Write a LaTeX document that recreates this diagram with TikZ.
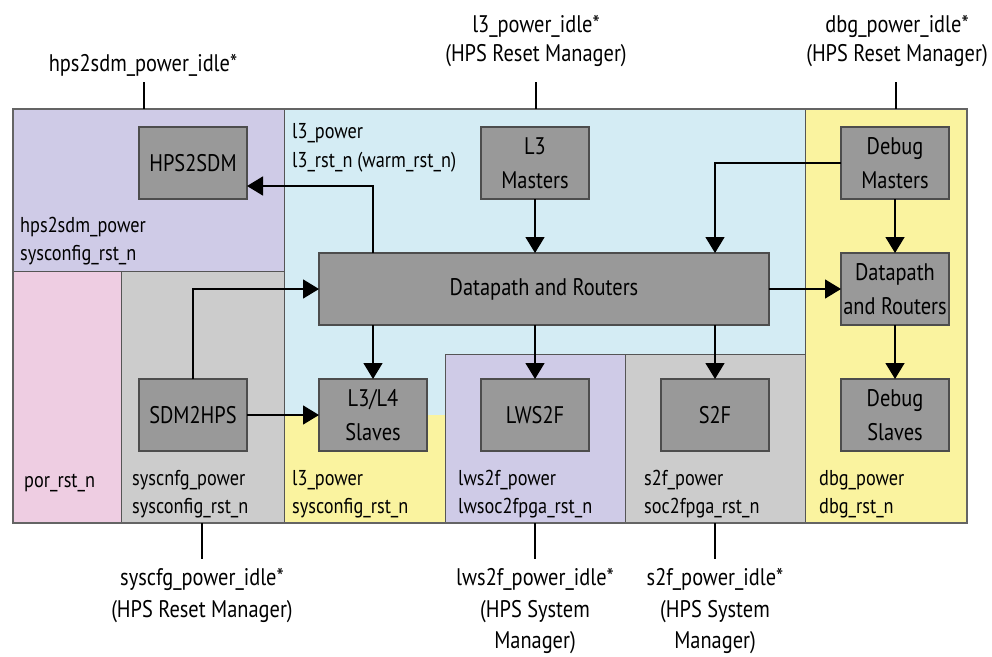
\documentclass[tikz,border=0pt]{standalone}
\usepackage{fontspec}
\setmainfont{PT Sans}[FakeStretch=0.85]
\usetikzlibrary{arrows.meta}
\definecolor{regLav}{RGB}{207,203,231}
\definecolor{regBlue}{RGB}{212,236,244}
\definecolor{regPink}{RGB}{238,205,226}
\definecolor{regGray}{RGB}{204,204,204}
\definecolor{regYel}{RGB}{250,243,159}
\definecolor{boxFill}{RGB}{153,153,153}
\definecolor{boxEdge}{RGB}{77,77,77}
\definecolor{edgeDark}{RGB}{85,85,85}
\definecolor{frameGray}{RGB}{100,100,100}
\begin{document}
\begin{tikzpicture}[x=1pt,y=-1pt,
  blk/.style={draw=boxEdge, line width=1.2pt, fill=boxFill, minimum width=108pt,
    minimum height=72pt, inner sep=0pt, outer sep=0pt, align=center,
    font=\fontsize{24}{34}\selectfont},
  lbl/.style={font=\fontsize{21.5}{26}\selectfont, anchor=base west, inner sep=0pt},
  outer/.style={font=\fontsize{24}{28}\selectfont, anchor=base, inner sep=0pt},
  conn/.style={line width=1.5pt, -{Triangle[length=16pt,width=19pt]}},
  tick/.style={line width=1.5pt},
  region/.style={draw=edgeDark, line width=1pt}
]
\path[use as bounding box] (0,0) rectangle (992,656);

% power domains
\fill[regBlue] (284,109) -- (805,109) -- (805,354) -- (445,354) -- (445,415) -- (284,415) -- cycle;
\fill[regYel] (284,415) rectangle (445,523);
\filldraw[region, fill=regLav] (13,109) rectangle (284,271);
\filldraw[region, fill=regPink] (13,271) rectangle (121,523);
\filldraw[region, fill=regGray] (121,271) rectangle (284,523);
\filldraw[region, fill=regLav] (445,354) rectangle (625,523);
\filldraw[region, fill=regGray] (625,354) rectangle (805,523);
\filldraw[region, fill=regYel] (805,109) rectangle (967,523);
\node[draw=frameGray, line width=2pt, minimum width=954pt, minimum height=414pt,
  inner sep=0pt, outer sep=0pt] (frame) at (490,316) {};

% domain labels
\node[lbl] (hpsA) at (20,232) {hps2sdm\_power};
\node[lbl] (hpsB) at (20,260) {sysconfig\_rst\_n};
\node[lbl] (l3A) at (292,138) {l3\_power};
\node[lbl] (l3B) at (292,167) {l3\_rst\_n (warm\_rst\_n)};
\node[lbl] (porA) at (24,487) {por\_rst\_n};
\node[lbl] (sysA) at (132,485) {syscnfg\_power};
\node[lbl] (sysB) at (132,513) {sysconfig\_rst\_n};
\node[lbl] (l3yA) at (292,485) {l3\_power};
\node[lbl] (l3yB) at (292,513) {sysconfig\_rst\_n};
\node[lbl] (lwsA) at (458,485) {lws2f\_power};
\node[lbl] (lwsB) at (458,513) {lwsoc2fpga\_rst\_n};
\node[lbl] (s2fA) at (644,485) {s2f\_power};
\node[lbl] (s2fB) at (644,513) {soc2fpga\_rst\_n};
\node[lbl] (dbgA) at (819,485) {dbg\_power};
\node[lbl] (dbgB) at (819,513) {dbg\_rst\_n};

% blocks
\node[blk] (hps) at (193,163) {HPS2SDM};
\node[blk] (l3m) at (535,163) {L3\\Masters};
\node[blk] (dbgm) at (895,163) {Debug\\Masters};
\node[blk, minimum width=450pt] (dp) at (544,289) {Datapath and Routers};
\node[blk] (dp2) at (895,289) {Datapath\\and Routers};
\node[blk] (sdm) at (193,415) {SDM2HPS};
\node[blk] (l34) at (373,415) {L3/L4\\Slaves};
\node[blk] (lws) at (535,415) {LWS2F};
\node[blk] (s2f) at (715,415) {S2F};
\node[blk] (dbgs) at (895,415) {Debug\\Slaves};

% connections
\draw[conn] (dp.north -| l34.north) |- ([yshift=-23pt]hps.east);
\draw[conn] (sdm.north) |- (dp.west);
\draw[conn] (sdm.east) -- (l34.west);
\draw[conn] (dp.south -| l34.north) -- (l34.north);
\draw[conn] (l3m.south) -- (l3m.south |- dp.north);
\draw[conn] (dbgm.west) -| (s2f.north |- dp.north);
\draw[conn] (dp.south -| lws.north) -- (lws.north);
\draw[conn] (dp.south -| s2f.north) -- (s2f.north);
\draw[conn] (dp.east) -- (dp2.west);
\draw[conn] (dbgm.south) -- (dp2.north);
\draw[conn] (dp2.south) -- (dbgs.north);

% idle signals above
\node[outer] (tHps) at (143,71) {hps2sdm\_power\_idle*};
\node[outer] (tL3a) at (536,32) {l3\_power\_idle*};
\node[outer] (tL3b) at (536,61) {(HPS Reset Manager)};
\node[outer] (tDbga) at (897,32) {dbg\_power\_idle*};
\node[outer] (tDbgb) at (897,61) {(HPS Reset Manager)};
\coordinate (pHps) at (144,82);
\coordinate (pL3) at (536,82);
\coordinate (pDbg) at (896,82);
\draw[tick] (pHps) -- (pHps |- frame.north);
\draw[tick] (pL3) -- (pL3 |- frame.north);
\draw[tick] (pDbg) -- (pDbg |- frame.north);

% idle signals below
\node[outer] (bSysa) at (202,585) {syscfg\_power\_idle*};
\node[outer] (bSysb) at (202,617) {(HPS Reset Manager)};
\node[outer] (bLwsa) at (535,585) {lws2f\_power\_idle*};
\node[outer] (bLwsb) at (535,617) {(HPS System};
\node[outer] (bLwsc) at (535,648) {Manager)};
\node[outer] (bS2fa) at (715,585) {s2f\_power\_idle*};
\node[outer] (bS2fb) at (715,617) {(HPS System};
\node[outer] (bS2fc) at (715,648) {Manager)};
\coordinate (qSys) at (202,559);
\coordinate (qLws) at (535,559);
\coordinate (qS2f) at (715,559);
\draw[tick] (qSys |- frame.south) -- (qSys);
\draw[tick] (qLws |- frame.south) -- (qLws);
\draw[tick] (qS2f |- frame.south) -- (qS2f);
\end{tikzpicture}
\end{document}
